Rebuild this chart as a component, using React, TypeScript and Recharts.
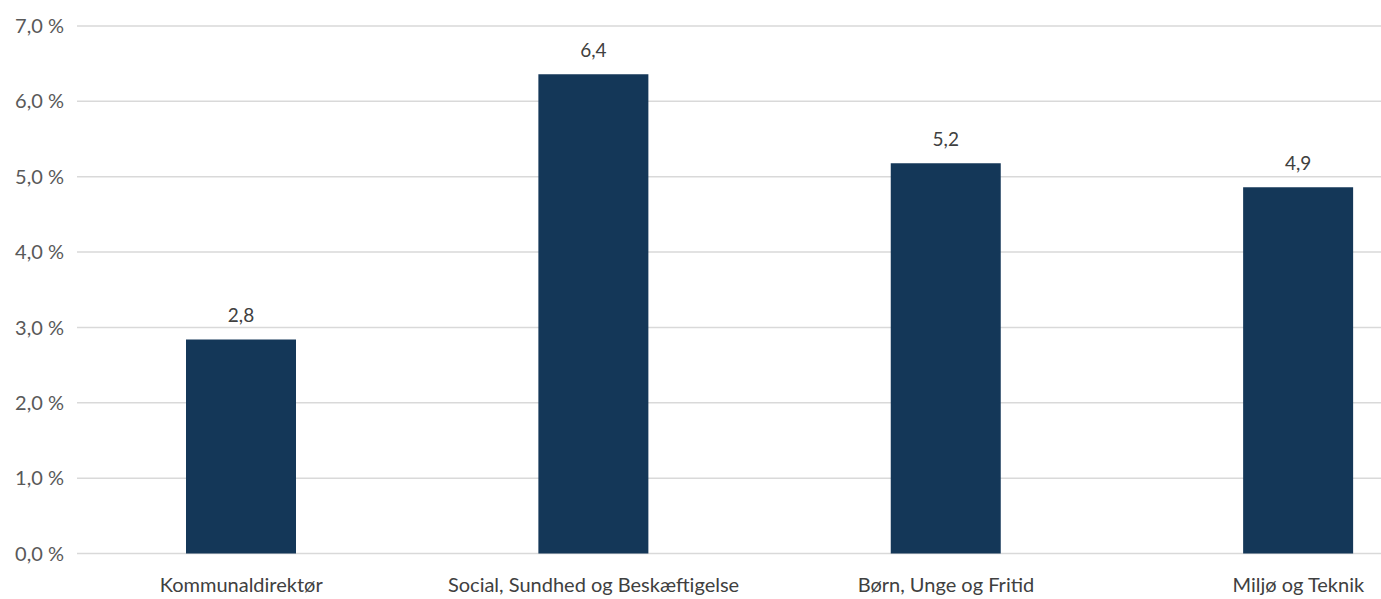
import { Bar, BarChart, CartesianGrid, LabelList, XAxis, YAxis } from "recharts";

const categories = [
  "Kommunaldirektør",
  "Social, Sundhed og Beskæftigelse",
  "Børn, Unge og Fritid",
  "Miljø og Teknik"
];
const shares = [2.84, 6.36, 5.18, 4.86];
const yTicks = [0, 1, 2, 3, 4, 5, 6, 7];

const data = categories.map((name, i) => ({ name, share: shares[i] }));

const FONT = "Lato, 'Open Sans', sans-serif";
const fmt = (v: number) => v.toFixed(1).replace(".", ",");

export default function App() {
  return (
    <div style={{ position: "absolute", left: 0, top: 0, fontFamily: FONT }}>
      <BarChart
        width={1381}
        height={599}
        data={data}
        margin={{ top: 26, right: 0, bottom: 0, left: 0 }}
      >
        <CartesianGrid vertical={false} stroke="#d9d9d9" strokeWidth={1.5} />
        <XAxis
          dataKey="name"
          axisLine={false}
          tickLine={false}
          tickSize={0}
          tickMargin={24}
          height={45.5}
          padding={{ left: -12, right: -93.5 }}
          interval={0}
          tick={{ fill: "#404040", fontSize: 20, fontFamily: FONT }}
        />
        <YAxis
          domain={[0, 7]}
          ticks={yTicks}
          width={77}
          axisLine={false}
          tickLine={false}
          tickSize={0}
          tickMargin={13}
          tickFormatter={(v: number) => `${fmt(v)} %`}
          tick={{ fill: "#595959", fontSize: 20, fontFamily: FONT }}
        />
        <Bar dataKey="share" fill="#143758" barSize={110} isAnimationActive={false}>
          <LabelList
            dataKey="share"
            position="top"
            offset={17}
            formatter={(v: number) => fmt(v)}
            style={{ fill: "#404040", fontSize: 19, fontFamily: FONT }}
          />
        </Bar>
      </BarChart>
    </div>
  );
}
